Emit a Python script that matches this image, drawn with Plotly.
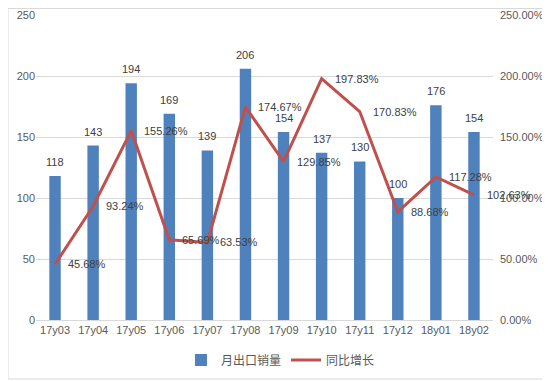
import plotly.graph_objects as go

categories = ["17y03", "17y04", "17y05", "17y06", "17y07", "17y08",
              "17y09", "17y10", "17y11", "17y12", "18y01", "18y02"]
export_sales = [118, 143, 194, 169, 139, 206, 154, 137, 130, 100, 176, 154]
yoy_growth = [0.4568, 0.9324, 1.5526, 0.6569, 0.6353, 1.7467,
              1.2985, 1.9783, 1.7083, 0.8868, 1.1728, 1.0263]
left_ticks = [0, 50, 100, 150, 200, 250]
right_ticks = [0, 0.5, 1.0, 1.5, 2.0, 2.5]

FONT = "Liberation Sans, Noto Sans CJK SC, sans-serif"
TXT = "#404040"
AX = "#595959"

fig = go.Figure()
fig.add_trace(go.Bar(
    x=categories, y=export_sales, name="月出口销量",
    marker=dict(color="#4F81BD", line=dict(width=0)),
))
fig.add_trace(go.Scatter(
    x=categories, y=yoy_growth, name="同比增长", yaxis="y2",
    mode="lines", line=dict(color="#C0504D", width=3),
))

annotations = []
for c, v in zip(categories, export_sales):
    annotations.append(dict(x=c, y=v, xref="x", yref="y", text=str(v), showarrow=False,
                            yanchor="bottom", yshift=6,
                            font=dict(size=11, color=TXT, family=FONT)))
for c, v in zip(categories, yoy_growth):
    annotations.append(dict(x=c, y=v, xref="x", yref="y2", text=f"{v*100:.2f}%",
                            showarrow=False, xanchor="left", xshift=11,
                            font=dict(size=11, color=TXT, family=FONT)))

fig.update_layout(
    width=550, height=381,
    margin=dict(l=28, r=65, t=7, b=69),
    paper_bgcolor="white", plot_bgcolor="white",
    font=dict(family=FONT, size=11, color=AX),
    bargap=0.7,
    showlegend=True,
    legend=dict(orientation="h", x=0.535, y=-0.131, xanchor="center", yanchor="middle",
                font=dict(size=12, color=AX, family=FONT), itemwidth=30),
    xaxis=dict(type="category", range=[-0.5, len(categories) - 0.5],
               showgrid=False, showline=True, linecolor="#D9D9D9", ticks="",
               tickfont=dict(size=11, color=AX), automargin=False),
    yaxis=dict(range=[0, 250], tickvals=left_ticks, showgrid=True, gridcolor="#D9D9D9",
               zeroline=False, showline=False, ticks="", tickfont=dict(size=11, color=AX),
               automargin=False),
    yaxis2=dict(range=[0, 2.5], tickvals=right_ticks, tickformat=".2%", overlaying="y",
                side="right", showgrid=False, zeroline=False, showline=False, ticks="",
                tickfont=dict(size=11, color=AX), ticklabelstandoff=6, automargin=False),
    annotations=annotations,
    shapes=[dict(type="rect", xref="paper", yref="paper",
                 x0=-0.0613, x1=1.1204, y0=-0.1934, y1=1.0213,
                 line=dict(color="#D9D9D9", width=1), layer="below")],
)

fig.write_html("out.html")
